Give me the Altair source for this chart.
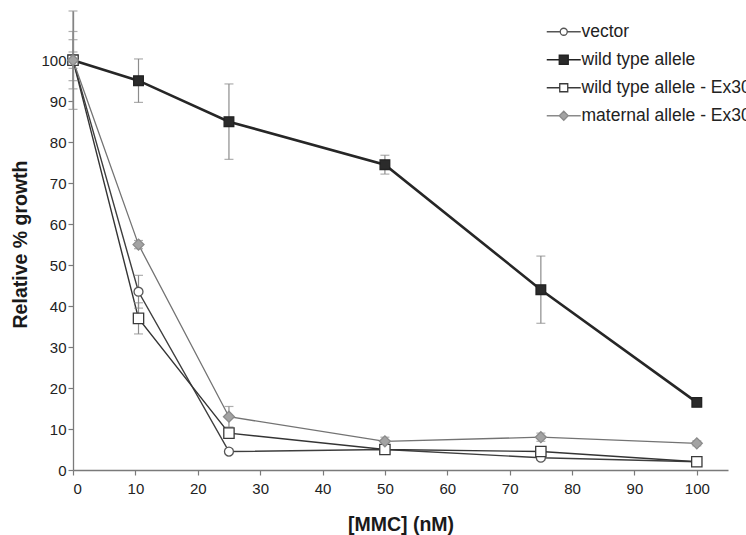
import altair as alt
import pandas as pd

# ---- data ----
conc = [0, 10.5, 25, 50, 75, 100]
series_names = ["vector", "wild type allele", "wild type allele - Ex30", "maternal allele - Ex30"]

vector = [100, 43.5, 4.5, 5, 3, 2]
vector_err = [12, 4, 0.6, 0.6, 0.6, 0.5]
wild = [100, 95, 85, 74.5, 44, 16.5]
wild_err = [2, 5.3, 9.2, 2.3, 8.2, 1]
ex30 = [100, 37, 9, 5, 4.5, 2]
ex30_err = [7, 3.8, 1, 0.6, 1, 0.5]
maternal = [100, 55, 13, 7, 8, 6.5]
maternal_err = [5, 1, 2.5, 1, 1, 0.6]

x_ticks = list(range(0, 101, 10))
y_ticks = list(range(0, 101, 10))

rows = []
for name, vals, errs in zip(series_names, [vector, wild, ex30, maternal],
                            [vector_err, wild_err, ex30_err, maternal_err]):
    for c, v, e in zip(conc, vals, errs):
        rows.append({"series": name, "conc": c, "value": v, "lo": v - e, "hi": v + e})
df = pd.DataFrame(rows)

FONT = "Liberation Sans"
YTITLE = "Relative % growth"
XTITLE = "[MMC] (nM)"

xscale = alt.Scale(domain=[0, 105], nice=False, zero=False)
yscale = alt.Scale(domain=[0, 112], nice=False, zero=False)
xaxis = alt.Axis(values=x_ticks, title=XTITLE, titleY=54, titleBaseline="middle")
yaxis = alt.Axis(values=y_ticks, title=YTITLE, titleX=-53, titleY=233,
                 titleAngle=-90, titleAlign="center", titleBaseline="middle")

X = alt.X("conc:Q", scale=xscale, axis=xaxis)
Y = alt.Y("value:Q", scale=yscale, axis=yaxis)

line_colors = ["#3e3e3e", "#262626", "#343434", "#737373"]
line_widths = [1.4, 2.6, 1.4, 1.3]
pt_shapes = ["circle", "square", "square", "diamond"]
pt_fills = ["#ffffff", "#2b2b2b", "#ffffff", "#a3a3a3"]
pt_strokes = ["#555555", "#222222", "#3a3a3a", "#8a8a8a"]
pt_sizes = [80, 120, 100, 120]

legend_paths = [
    "M-3.4,0H-0.7M0.7,0H3.4M-0.7,0A0.7,0.7,0,1,1,0.7,0A0.7,0.7,0,1,1,-0.7,0Z",
    "M-3.4,0H-0.9M0.9,0H3.4M-0.9,-0.9H0.9V0.9H-0.9Z",
    "M-3.4,0H-0.8M0.8,0H3.4M-0.8,-0.8H0.8V0.8H-0.8Z",
    "M-3.4,0H-0.9M0.9,0H3.4M-0.9,0L0,-0.9L0.9,0L0,0.9Z",
]

base = alt.Chart(df)

line_layers = []
for name, col, w in zip(series_names, line_colors, line_widths):
    line_layers.append(
        base.transform_filter(alt.datum.series == name)
        .mark_line(color=col, strokeWidth=w)
        .encode(x=X, y=Y)
    )

errbars = base.mark_errorbar(ticks=True, size=9, thickness=1.2, color="#8c8c8c").encode(
    x=X,
    y=alt.Y("lo:Q", scale=yscale, axis=yaxis),
    y2="hi:Q",
    detail="series:N",
)

points = base.mark_point(strokeWidth=1.3, opacity=1).encode(
    x=X, y=Y,
    shape=alt.Shape("series:N", scale=alt.Scale(domain=series_names, range=pt_shapes), legend=None),
    fill=alt.Fill("series:N", scale=alt.Scale(domain=series_names, range=pt_fills), legend=None),
    stroke=alt.Stroke("series:N", scale=alt.Scale(domain=series_names, range=pt_strokes), legend=None),
    size=alt.Size("series:N", scale=alt.Scale(domain=series_names, range=pt_sizes), legend=None),
)

leg = alt.Legend(title=None, orient="none", legendX=482, legendY=12, symbolSize=100,
                 symbolStrokeWidth=1.3, labelFont=FONT, labelFontSize=17.5, labelColor="#222222",
                 labelOffset=9, rowPadding=9, padding=0, labelLimit=400)

legend_layer = base.transform_filter("false").mark_point(strokeWidth=1.3, opacity=1).encode(
    x=X, y=Y,
    shape=alt.Shape("series:N", scale=alt.Scale(domain=series_names, range=legend_paths), legend=leg),
    fill=alt.Fill("series:N", scale=alt.Scale(domain=series_names, range=pt_fills), legend=leg),
    stroke=alt.Stroke("series:N", scale=alt.Scale(domain=series_names, range=pt_strokes), legend=leg),
)

chart = alt.layer(*line_layers, errbars, points, legend_layer).resolve_scale(
    shape="independent", fill="independent", stroke="independent"
).properties(
    width=655, height=459,
    autosize=alt.AutoSizeParams(type="none"),
    padding={"left": 73, "top": 11, "right": 18, "bottom": 65},
    background="white",
).configure_view(stroke=None).configure_axis(
    grid=False, domainColor="#7a7a7a", tickColor="#7a7a7a", domainWidth=1.3, tickWidth=1.2,
    tickSize=5, labelFont=FONT, labelFontSize=15, labelColor="#222222", labelPadding=2,
    titleFont=FONT, titleFontSize=19.5, titleFontWeight="bold", titleColor="#1a1a1a",
).configure_axisX(labelPadding=6)

chart.save("out.html", embed_options={"renderer": "svg", "actions": False})
